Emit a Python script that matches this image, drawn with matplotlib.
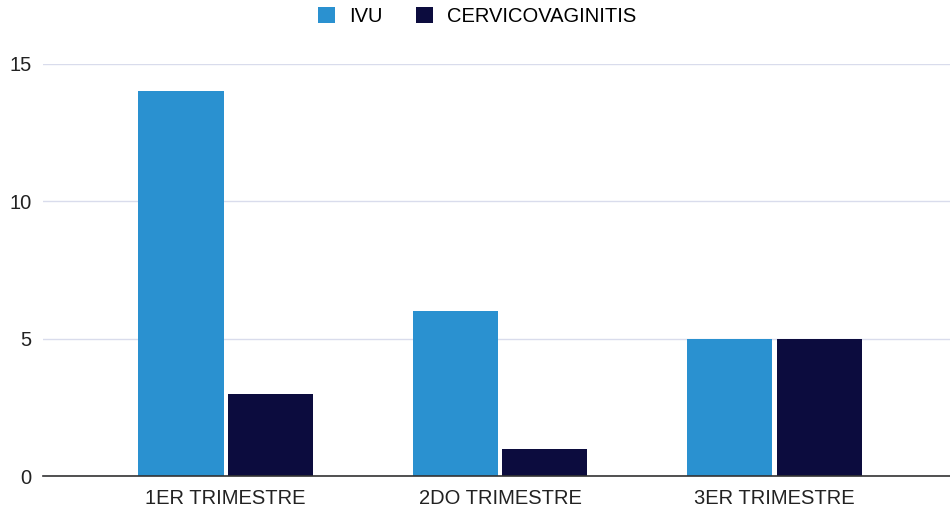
import numpy as np
import matplotlib
matplotlib.use("Agg")
import matplotlib.pyplot as plt

categorias = ["1ER TRIMESTRE", "2DO TRIMESTRE", "3ER TRIMESTRE"]
ivu = [14, 6, 5]
cervicovaginitis = [3, 1, 5]
series = ["IVU", "CERVICOVAGINITIS"]

color_ivu = "#2a91d0"
color_cv = "#0c0c3e"

plt.rcParams["font.family"] = ["Liberation Sans", "DejaVu Sans"]

fig = plt.figure(figsize=(9.5, 5.11), dpi=100)
ax = fig.add_axes([0.045, 0.068, 0.955, 0.807])

x = np.arange(len(categorias))
ancho = 0.31
sep = 0.008
ax.bar(x - ancho / 2 - sep, ivu, width=ancho, color=color_ivu, label=series[0], zorder=3)
ax.bar(x + ancho / 2 + sep, cervicovaginitis, width=ancho, color=color_cv, label=series[1], zorder=3)

ax.set_ylim(0, 15)
ax.set_xlim(-0.667, 2.64)
ax.set_yticks([0, 5, 10, 15])
ax.set_xticks(x)
ax.set_xticklabels(categorias)
ax.tick_params(axis="both", length=0, labelsize=14.5, colors="#222222")
ax.tick_params(axis="y", pad=8)
ax.tick_params(axis="x", pad=9)
ax.grid(axis="y", color="#d9dcec", linewidth=1, zorder=0)
for s in ["top", "right", "left"]:
    ax.spines[s].set_visible(False)
ax.spines["bottom"].set_color("#333333")
ax.spines["bottom"].set_linewidth(1.2)
ax.spines["bottom"].set_zorder(4)

ax.legend(loc="center", bbox_to_anchor=(0.479, 1.115), ncol=2, frameon=False,
          fontsize=14.5, handlelength=0.85, handleheight=0.85, handletextpad=0.7,
          columnspacing=1.65, borderpad=0)

fig.savefig("out.png", dpi=100)
